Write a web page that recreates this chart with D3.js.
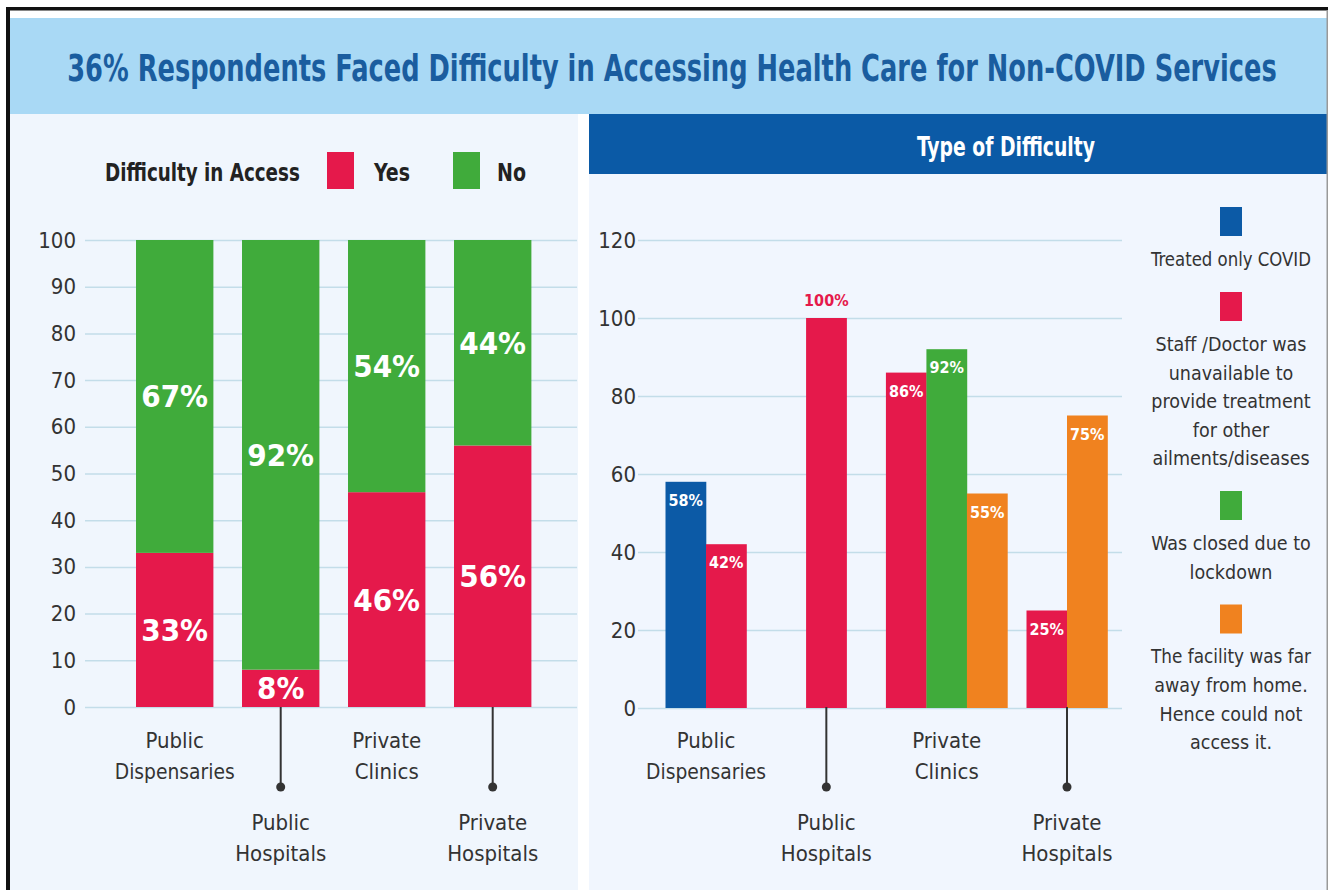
<!DOCTYPE html>
<html>
<head>
<meta charset="utf-8">
<script src="https://cdn.jsdelivr.net/npm/d3@7"></script>
<style>
  html, body { margin: 0; padding: 0; background: #ffffff; }
  svg { display: block; }
</style>
</head>
<body>
<svg id="chart" width="1328" height="890"></svg>
<script>
// ---------------- DATA ----------------
const titleText = "36% Respondents Faced Difficulty in Accessing Health Care for Non-COVID Services";
const categories = ["Public Dispensaries", "Public Hospitals", "Private Clinics", "Private Hospitals"];
const categoryLines = [["Public", "Dispensaries"], ["Public", "Hospitals"], ["Private", "Clinics"], ["Private", "Hospitals"]];
const staggered = [false, true, false, true];

// Left chart: Difficulty in Access (stacked, %)
const accessSeries = ["Yes", "No"];
const yesValues = [33, 8, 46, 56];
const noValues = [67, 92, 54, 44];
const leftTicks = [0, 10, 20, 30, 40, 50, 60, 70, 80, 90, 100];

// Right chart: Type of Difficulty (%), 0 = not reported
const typeSeries = ["Treated only COVID", "Staff /Doctor was unavailable to provide treatment for other ailments/diseases", "Was closed due to lockdown", "The facility was far away from home. Hence could not access it."];
const typeLegendLines = [
  ["Treated only COVID"],
  ["Staff /Doctor was", "unavailable to", "provide treatment", "for other", "ailments/diseases"],
  ["Was closed due to", "lockdown"],
  ["The facility was far", "away from home.", "Hence could not", "access it."]
];
const treatedOnlyCovid = [58, 0, 0, 0];
const staffUnavailable = [42, 100, 86, 25];
const closedLockdown = [0, 0, 92, 0];
const farAway = [0, 0, 55, 75];
const rightTicks = [0, 20, 40, 60, 80, 100, 120];

// ---------------- STYLE ----------------
const RED = "#e5194b", GREEN = "#40ab3b", BLUE = "#0c5aa6", ORANGE = "#f0821f";
const typeColors = [BLUE, RED, GREEN, ORANGE];

function pickFont(cands, fallback) {
  const c = document.createElement("canvas").getContext("2d");
  const s = "Dispensaries Hospitals 0123456789";
  c.font = "40px monospace"; const wm = c.measureText(s).width;
  c.font = "40px serif"; const ws = c.measureText(s).width;
  for (const f of cands) {
    c.font = `40px "${f}", monospace`; const a = c.measureText(s).width;
    c.font = `40px "${f}", serif`; const b = c.measureText(s).width;
    if (a !== wm || b !== ws) return `"${f}"`;
  }
  return fallback;
}
const FONT = pickFont(["Liberation Sans Narrow", "DejaVu Sans Condensed", "Roboto Condensed", "Open Sans Condensed"], "Roboto") + ", Roboto, sans-serif";

const svg = d3.select("#chart").style("font-family", FONT);

// squeeze a text horizontally so it is at most maxW wide (anchor x kept)
function squeeze(sel, maxW, ax) {
  const w = sel.node().getComputedTextLength();
  if (w > maxW) {
    const k = maxW / w;
    sel.attr("transform", `translate(${ax},0) scale(${k},1) translate(${-ax},0)`);
  }
}

// ---------------- BACKGROUND / FRAME ----------------
svg.append("rect").attr("x", 0).attr("y", 0).attr("width", 1328).attr("height", 890).attr("fill", "#ffffff");
svg.append("rect").attr("x", 10).attr("y", 18).attr("width", 1318).attr("height", 96).attr("fill", "#a9d9f5");
svg.append("rect").attr("x", 10).attr("y", 114).attr("width", 568).attr("height", 776).attr("fill", "#f0f6fd");
svg.append("rect").attr("x", 589).attr("y", 114).attr("width", 739).attr("height", 776).attr("fill", "#f1f6fe");
svg.append("rect").attr("x", 589).attr("y", 114).attr("width", 739).attr("height", 60).attr("fill", "#0b5aa6");
svg.append("rect").attr("x", 6).attr("y", 7).attr("width", 1322).attr("height", 3.5).attr("fill", "#111");
svg.append("rect").attr("x", 6).attr("y", 7).attr("width", 4).attr("height", 883).attr("fill", "#111");
svg.append("rect").attr("x", 1326.5).attr("y", 10).attr("width", 1.5).attr("height", 880).attr("fill", "#999");

// Title
const title = svg.append("text").attr("x", 672).attr("y", 81).attr("text-anchor", "middle")
  .attr("font-size", 38).attr("font-weight", 700).attr("fill", "#1a5d9f")
  .text(titleText);
squeeze(title, 1210, 672);

// ---------------- LEFT CHART ----------------
const left = svg.append("g");
const yL = d3.scaleLinear().domain([0, 100]).range([707, 240]);
const xL = d3.scaleBand().domain(categories).range([121.7, 545.7]).paddingInner(0.27).paddingOuter(0.135);

// legend
const legTitle = left.append("text").attr("x", 105).attr("y", 181).attr("font-size", 25).attr("font-weight", 700)
  .attr("fill", "#222").text("Difficulty in Access");
squeeze(legTitle, 195, 105);
const legL = [{ name: accessSeries[0], color: RED, x: 327, tx: 374, w: 36 }, { name: accessSeries[1], color: GREEN, x: 453, tx: 497, w: 29 }];
legL.forEach(d => {
  left.append("rect").attr("x", d.x).attr("y", 152).attr("width", 27).attr("height", 37).attr("fill", d.color);
  const t = left.append("text").attr("x", d.tx).attr("y", 181).attr("font-size", 25).attr("font-weight", 700)
    .attr("fill", "#222").text(d.name);
  squeeze(t, d.w, d.tx);
});

// grid
const gL = left.append("g").attr("transform", "translate(85,0)")
  .call(d3.axisLeft(yL).tickValues(leftTicks).tickSize(-492).tickPadding(9).tickFormat(d3.format("d")));
gL.select(".domain").remove();
gL.selectAll(".tick line").attr("stroke", "#c3dde9").attr("stroke-width", 1.5);
gL.selectAll(".tick text").attr("font-size", 22).attr("fill", "#333").attr("font-family", FONT);

// stacked bars
const stackData = categories.map((c, i) => ({ cat: c, Yes: yesValues[i], No: noValues[i] }));
const stacked = d3.stack().keys(accessSeries)(stackData);
const colorL = { Yes: RED, No: GREEN };
stacked.forEach(layer => {
  left.append("g").selectAll("rect").data(layer).join("rect")
    .attr("x", d => xL(d.data.cat)).attr("width", xL.bandwidth())
    .attr("y", d => yL(d[1])).attr("height", d => yL(d[0]) - yL(d[1]))
    .attr("fill", colorL[layer.key]);
  left.append("g").selectAll("text").data(layer).join("text")
    .attr("x", d => xL(d.data.cat) + xL.bandwidth() / 2)
    .attr("y", d => yL((d[0] + d[1]) / 2) + 11)
    .attr("text-anchor", "middle").attr("font-size", 31).attr("font-weight", 700).attr("fill", "#fff")
    .text(d => (d[1] - d[0]) + "%");
});

// category labels
function catLabels(g, xc) {
  categories.forEach((c, i) => {
    const cx = xc(c, i);
    const y0 = staggered[i] ? 822 : 740;
    if (staggered[i]) {
      g.append("line").attr("x1", cx).attr("x2", cx).attr("y1", 707).attr("y2", 787)
        .attr("stroke", "#333").attr("stroke-width", 2);
      g.append("circle").attr("cx", cx).attr("cy", 787).attr("r", 4.5).attr("fill", "#333");
    }
    categoryLines[i].forEach((ln, j) => {
      const t = g.append("text").attr("x", cx).attr("y", y0 + j * 31 + 8).attr("text-anchor", "middle")
        .attr("font-size", 22).attr("fill", "#333").text(ln);
      squeeze(t, 120, cx);
    });
  });
}
catLabels(left, (c) => xL(c) + xL.bandwidth() / 2);

// ---------------- RIGHT CHART ----------------
const right = svg.append("g");
const sub = right.append("text").attr("x", 1006).attr("y", 156).attr("text-anchor", "middle")
  .attr("font-size", 26).attr("font-weight", 700).attr("fill", "#fff").text("Type of Difficulty");
squeeze(sub, 178, 1006);

const yR = d3.scaleLinear().domain([0, 120]).range([708, 240]);
const xR = d3.scalePoint().domain(categories).range([706, 1067]);
const barW = 40.5;

const gR = right.append("g").attr("transform", "translate(638,0)")
  .call(d3.axisLeft(yR).tickValues(rightTicks).tickSize(-484).tickPadding(2).tickFormat(d3.format("d")));
gR.select(".domain").remove();
gR.selectAll(".tick line").attr("stroke", "#c3dde9").attr("stroke-width", 1.5);
gR.selectAll(".tick text").attr("font-size", 22).attr("fill", "#333").attr("font-family", FONT);

const typeValues = [treatedOnlyCovid, staffUnavailable, closedLockdown, farAway];
const barsR = [];
categories.forEach((c, i) => {
  const present = typeValues.map((arr, k) => ({ k, v: arr[i] })).filter(d => d.v > 0);
  const start = xR(c) - present.length * barW / 2;
  present.forEach((d, j) => barsR.push({ cat: c, k: d.k, v: d.v, x: start + j * barW }));
});
right.append("g").selectAll("rect").data(barsR).join("rect")
  .attr("x", d => d.x).attr("width", barW + 0.3)
  .attr("y", d => yR(d.v)).attr("height", d => yR(0) - yR(d.v))
  .attr("fill", d => typeColors[d.k]);
right.append("g").selectAll("text").data(barsR).join("text")
  .attr("x", d => d.x + barW / 2)
  .attr("y", d => d.v >= 100 ? yR(d.v) - 12 : yR(d.v) + 24)
  .attr("text-anchor", "middle").attr("font-size", 16).attr("font-weight", 700)
  .attr("fill", d => d.v >= 100 ? RED : "#fff")
  .text(d => d.v + "%");

catLabels(right, (c) => xR(c));

// legend
let ly = 207;
typeSeries.forEach((s, k) => {
  right.append("rect").attr("x", 1220).attr("y", ly).attr("width", 22).attr("height", 29).attr("fill", typeColors[k]);
  const lines = typeLegendLines[k];
  let ty = ly + 52;
  lines.forEach((ln, j) => {
    const t = right.append("text").attr("x", 1231).attr("y", ty + j * 28.5 + 7).attr("text-anchor", "middle")
      .attr("font-size", 19.5).attr("fill", "#333").text(ln);
    squeeze(t, 160, 1231);
  });
  ly = ty + (lines.length - 1) * 28.5 + 33;
});
</script>
</body>
</html>
